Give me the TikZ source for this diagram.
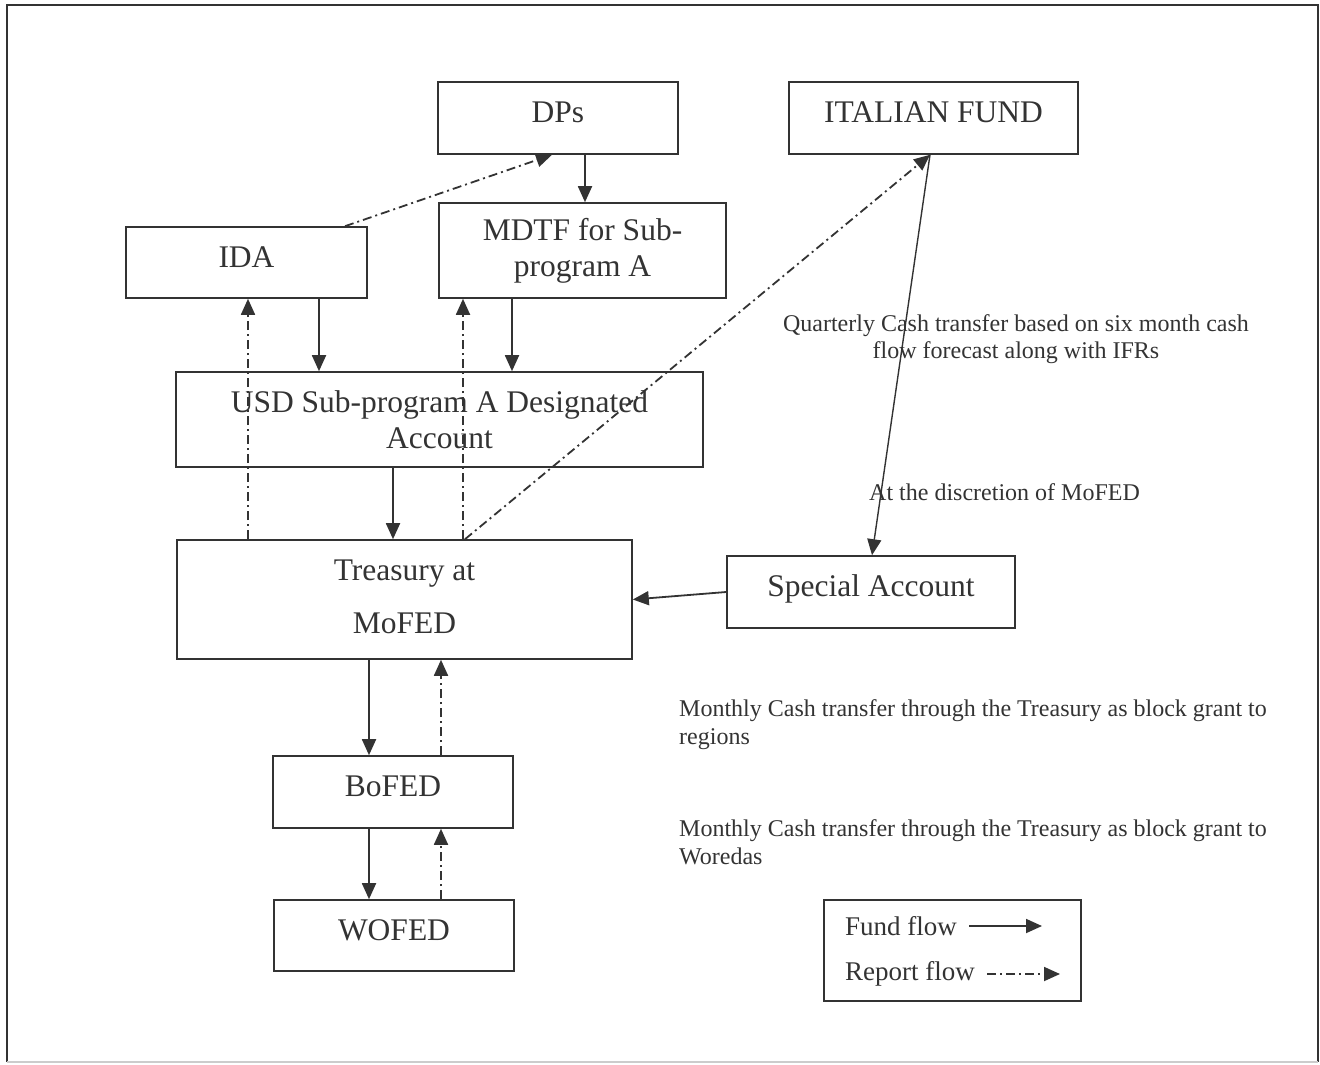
\documentclass[tikz,border=0pt]{standalone}
\usepackage{fontspec}
\setmainfont{Liberation Serif}
\usetikzlibrary{arrows.meta,positioning}
\definecolor{ink}{gray}{0.2}
\tikzset{
box/.style={draw=ink, line width=1.6pt, text=ink, font=\fontsize{31.5}{36}\selectfont, align=center, inner sep=0pt}, % every account box
onebox/.style={box, text height=21pt, text depth=12pt}, % box with one line, text sits a bit high
fund/.style={draw=ink, line width=1.8pt, -{Triangle[length=16pt,width=14pt]}}, % solid arrow = fund flow
report/.style={fund, dash pattern=on 9pt off 4pt on 2pt off 4pt}, % dash-dot arrow = report flow
note/.style={text=ink, font=\fontsize{24}{27.5}\selectfont, inner sep=0pt}, % side remarks
}

\begin{document}
\begin{tikzpicture}[x=1pt,y=-1pt]
		\useasboundingbox (0,0) rectangle (1320,1065);
		\draw[ink, line width=1.5pt] (7,1062) -- (7,5) -- (1318,5) -- (1318,1062);
		\draw[gray!40, line width=1.2pt] (7,1062) -- (1318,1062);

		\node[onebox, minimum width=240, minimum height=72] (DP) at (558,118) {DPs};
		\node[onebox, minimum width=289, minimum height=72] (ITA) at (933.5,118) {ITALIAN FUND};
		\node[onebox, minimum width=241, minimum height=71] (IDA) at (246.5,262.5) {IDA};
		\node[box, minimum width=287, minimum height=95] (MDTF) at (582.5,250.5) {MDTF for Sub-\\program A};
		\node[box, minimum width=527, minimum height=95] (USD) at (439.5,419.5) {USD Sub-program A Designated\\Account};
		\node[box, minimum width=455, minimum height=119] (TRE) at (404.5,599.5) {Treasury at\\[17pt]MoFED\\[-30pt]\mbox{}};
		\node[onebox, minimum width=288, minimum height=72] (SA) at (871,592) {Special Account};
		\node[onebox, minimum width=240, minimum height=72] (BOF) at (393,792) {BoFED};
		\node[onebox, minimum width=240, minimum height=71] (WOF) at (394,935.5) {WOFED};

		\node[note, align=center] (qct) at (1016,339) {Quarterly Cash transfer based on six month cash\\flow forecast along with IFRs};
		\node[note, anchor=west] (disc) at (869,492) {At the discretion of MoFED};
		\node[note, align=left, anchor=west] (mreg) at (679,724.5) {Monthly Cash transfer through the Treasury as block grant to\\regions};
		\node[note, align=left, anchor=west] (mwor) at (679,842) {Monthly Cash transfer through the Treasury as block grant to\\Woredas};

		% legend
		\node[draw=ink, line width=1.6pt, minimum width=257, minimum height=101] (LEG) at (952.5,950.5) {};
		\node[note, font=\fontsize{27}{32}\selectfont, anchor=west] (ff) at (845,926) {Fund flow};
		\node[note, font=\fontsize{27}{32}\selectfont, anchor=west] (rf) at (845,974) {Report flow};
		\coordinate (ffend) at (1042,926);
		\coordinate (rfend) at (1060,974);

		% fund flow
		\draw[fund] (585,0 |- DP.south) -- (585,0 |- MDTF.north);
		\draw[fund] (319,0 |- IDA.south) -- (319,0 |- USD.north);
		\draw[fund] (512,0 |- MDTF.south) -- (512,0 |- USD.north);
		\draw[fund] (393,0 |- USD.south) -- (393,0 |- TRE.north);
		\draw[fund, line width=1.4pt] (930,0 |- ITA.south) -- (872,0 |- SA.north);
		\draw[fund] (SA.west) -- (TRE.east);
		\draw[fund] (369,0 |- TRE.south) -- (369,0 |- BOF.north);
		\draw[fund] (369,0 |- BOF.south) -- (369,0 |- WOF.north);
		\draw[fund] ([xshift=12]ff.east) -- (ffend);

		% report flow
		\draw[report] (345,0 |- IDA.north) -- (552,0 |- DP.south);
		\draw[report] (248,0 |- TRE.north) -- (248,0 |- IDA.south);
		\draw[report] (463,0 |- TRE.north) -- (463,0 |- MDTF.south);
		\draw[report] (465,0 |- TRE.north) -- (930,0 |- ITA.south);
		\draw[report] (441,0 |- BOF.north) -- (441,0 |- TRE.south);
		\draw[report] (441,0 |- WOF.north) -- (441,0 |- BOF.south);
		\draw[report] ([xshift=12]rf.east) -- (rfend);
\end{tikzpicture}
\end{document}
